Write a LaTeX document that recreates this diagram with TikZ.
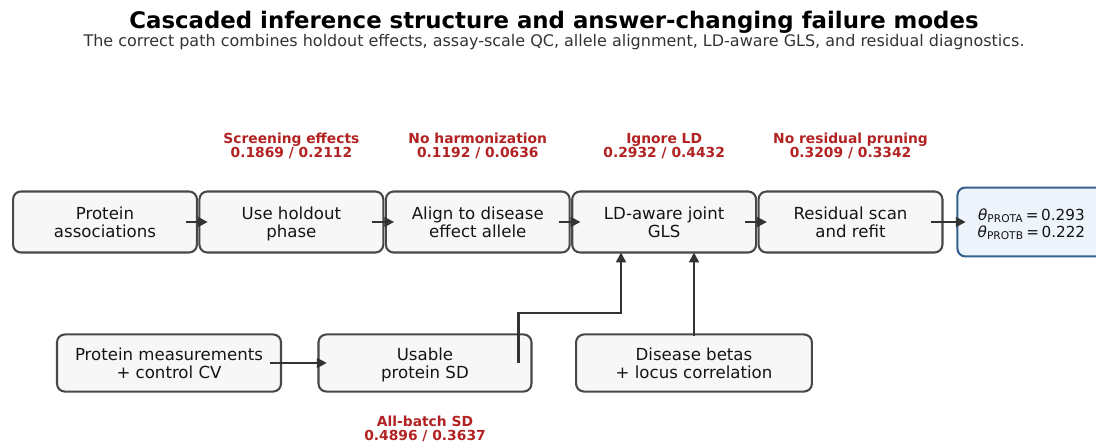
\documentclass[tikz,border=0pt]{standalone}
\usepackage{fontspec}
\setmainfont{DejaVu Sans}
\usetikzlibrary{positioning, arrows.meta}
\definecolor{boxfill}{HTML}{F7F7F7}
\definecolor{boxline}{HTML}{484848}
\definecolor{resfill}{HTML}{EEF4FB}
\definecolor{resline}{HTML}{355F8C}
\definecolor{failred}{HTML}{B22222}
\definecolor{arrowgray}{HTML}{333333}
\definecolor{subgray}{HTML}{333333}
\tikzset{
  stepbox/.style={rectangle, rounded corners=2mm, minimum width=46.7mm, minimum height=15.5mm, align=center, draw=boxline, fill=boxfill, line width=1.5pt, outer sep=0pt, text=black!92, font=\fontsize{12}{13}\selectfont, execute at begin node=\rule{0pt}{25pt}, execute at end node=\rule[-3pt]{0pt}{3pt}},
  inputbox/.style={stepbox, minimum height=14.5mm},
  resultbox/.style={stepbox, minimum width=37.6mm, minimum height=17.5mm, draw=resline, fill=resfill, font=\fontsize{11}{12.3}\selectfont},
  failnote/.style={align=center, text=failred, font=\bfseries\fontsize{10}{10.2}\selectfont},
  arrow/.style={line width=1.5pt, draw=arrowgray, -{Triangle[length=2.5mm,width=2.5mm]}}
}

\begin{document}
\begin{tikzpicture}[x=0.254mm, y=-0.254mm, node distance=0.64mm]
\useasboundingbox (0,0) rectangle (1096,443);

\node (title) at (554,22) [font=\bfseries\fontsize{16.5}{19}\selectfont] {Cascaded inference structure and answer-changing failure modes};
\node (subtitle) at (554,42) [text=subgray, font=\fontsize{11.55}{14}\selectfont] {The correct path combines holdout effects, assay-scale QC, allele alignment, LD-aware GLS, and residual diagnostics.};

% main chain
\node (assoc) at (105,222) [stepbox] {Protein\\associations};
\node (holdout) [stepbox, right=of assoc] {Use holdout\\phase};
\node (align) [stepbox, right=of holdout] {Align to disease\\effect allele};
\node (gls) [stepbox, right=of align] {LD-aware joint\\GLS};
\node (resid) [stepbox, right=of gls] {Residual scan\\and refit};
\node (theta) [resultbox, right=3.8mm of resid] {{\itshape θ}\textsubscript{PROTA}\,=\,0.293\\{\itshape θ}\textsubscript{PROTB}\,=\,0.222};

% inputs
\node (meas) at (169,363) [inputbox, minimum width=56.9mm] {Protein measurements\\+ control CV};
\node (sd) at (425,363) [inputbox, minimum width=54.1mm] {Usable\\protein SD};
\node (betas) at (694,363) [inputbox, minimum width=59.9mm] {Disease betas\\+ locus correlation};

% failure modes
\node (screen) at (holdout |- 0,146) [failnote] {Screening effects\\0.1869 / 0.2112};
\node (noharm) at (align |- 0,146) [failnote] {No harmonization\\0.1192 / 0.0636};
\node (ignld) at (gls |- 0,146) [failnote] {Ignore LD\\0.2932 / 0.4432};
\node (noprune) at (resid |- 0,146) [failnote] {No residual pruning\\0.3209 / 0.3342};
\node (allsd) at (sd |- 0,429) [failnote] {All-batch SD\\0.4896 / 0.3637};

\coordinate (sdbend) at (621,313);

\draw [arrow, shorten <=-2.8mm, shorten >=-2.1mm] (assoc) -- (holdout);
\draw [arrow, shorten <=-2.8mm, shorten >=-2.1mm] (holdout) -- (align);
\draw [arrow, shorten <=-2.8mm, shorten >=-2.1mm] (align) -- (gls);
\draw [arrow, shorten <=-2.8mm, shorten >=-2.1mm] (gls) -- (resid);
\draw [arrow, shorten <=-2.8mm, shorten >=-2.1mm] (resid) -- (theta);
\draw [arrow, shorten <=-2.8mm, shorten >=-2.1mm] (meas) -- (sd);
\draw [arrow] ([xshift=-3.3mm]sd.east) |- (sdbend) -- (sdbend |- gls.south);
\draw [arrow, shorten <=-0.5mm] (betas) -- (betas |- gls.south);
\end{tikzpicture}
\end{document}
